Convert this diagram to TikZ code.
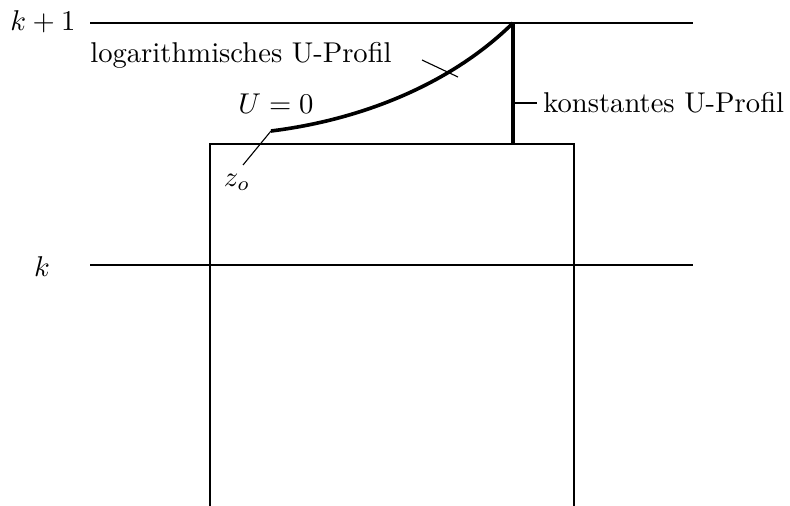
\documentclass[tikz,border=0pt]{standalone}
\usepackage{amsmath}
\usepackage{tikz}
\usetikzlibrary{calc, positioning}

\tikzset{
    level/.style={thin},
    wall/.style={semithick},
    profile/.style={line width=1.3pt},
    leader/.style={thin},
    lab/.style={scale=1.03}
}

\begin{document}
\begin{tikzpicture}[x=0.36pt, y=-0.36pt]
    \useasboundingbox (0,0) rectangle (790,506);
    % levels k and k+1
    \coordinate (upL) at (90,23);  \coordinate (upR) at (693,23);
    \coordinate (loL) at (90,265); \coordinate (loR) at (693,265);
    \draw[level] (upL) -- (upR);
    \draw[level] (loL) -- (loR);
    \node[lab] (kone) at (43,22) {$k+1$};
    \node[lab] (k) at (42,267) {$k$};
    % block
    \coordinate (bl) at (210,506); \coordinate (tl) at (210,144);
    \coordinate (tr) at (574,144); \coordinate (br) at (574,506);
    \draw[wall] (bl) -- (tl) -- (tr) -- (br);
    % profiles
    \coordinate (z0) at (271,131);
    \coordinate (top) at (513,23);
    \coordinate (foot) at (513,144);
    \draw[profile] (z0) .. controls (360,120) and (450,85) .. (top);
    \draw[profile] (top) -- (foot);
    % labels
    \node[lab] (U) at (276,104) {$U=0$};
    \node[lab] (zo) at (237,182) {$z_o$};
    \coordinate (zoend) at (243,165);
    \draw[leader] (zoend) -- (z0);
    \node[lab] (loglab) at (241,55) {logarithmisches U-Profil};
    \coordinate (tickA) at (422,60); \coordinate (tickB) at (458,77);
    \draw[leader] (tickA) -- (tickB);
    \coordinate (konst) at (513,103);
    \node[lab, right, inner sep=2pt] (konlab) at (537,103) {konstantes U-Profil};
    \draw[leader] (konst) -- (konlab.west);
\end{tikzpicture}
\end{document}
